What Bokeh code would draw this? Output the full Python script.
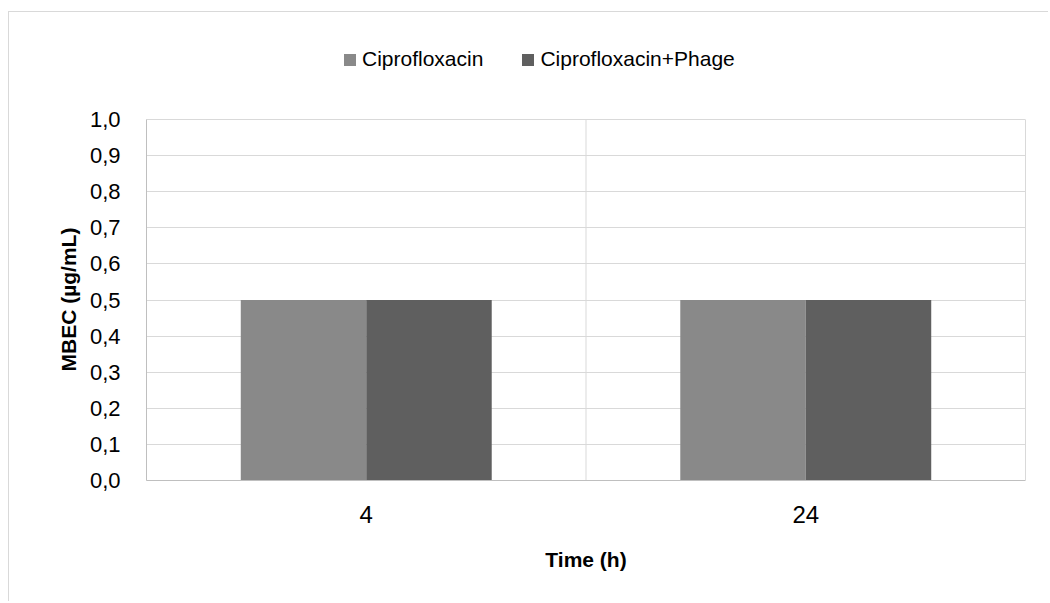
from bokeh.plotting import figure
from bokeh.models import (FactorRange, Range1d, FixedTicker, CustomJSTickFormatter,
                          Legend, LegendItem, BoxAnnotation, LinearAxis, Title,
                          ColumnDataSource)
from bokeh.transform import dodge
from bokeh.embed import file_html
from bokeh.resources import INLINE

# Data
times = ["4", "24"]
series_names = ["Ciprofloxacin", "Ciprofloxacin+Phage"]
cipro = [0.5, 0.5]
cipro_phage = [0.5, 0.5]
y_ticks = [0.0, 0.1, 0.2, 0.3, 0.4, 0.5, 0.6, 0.7, 0.8, 0.9, 1.0]

colors = ["#898989", "#5f5f5f"]
FONT = "Liberation Sans"
GRID = "#d9d9d9"

# value axis runs 0..1; the frame is taller so the legend can sit above the plot area
plot_h = 361          # px for 0..1
legend_room = 89      # px of frame above 1.0
y_max = y_ticks[-1]

source = ColumnDataSource(dict(time=times, cipro=cipro, cipro_phage=cipro_phage))

p = figure(
    x_range=FactorRange(*times, range_padding=0),
    y_range=Range1d(0, y_max * (1 + legend_room / plot_h)),
    width=1040, height=590,
    output_backend="svg", toolbar_location=None,
    min_border_left=137, min_border_right=24,
    min_border_top=18, min_border_bottom=122,
)
# chart-area frame (left and top edges visible)
p.margin = (11, 0, 0, 8)
p.styles = {"border-left": "1px solid #d9d9d9", "border-top": "1px solid #d9d9d9"}
p.outline_line_color = None

bw = 0.2855
r1 = p.vbar(x=dodge("time", -bw / 2, range=p.x_range), top="cipro", width=bw,
            source=source, fill_color=colors[0], line_color=None)
r2 = p.vbar(x=dodge("time", bw / 2, range=p.x_range), top="cipro_phage", width=bw,
            source=source, fill_color=colors[1], line_color=None)

# grid: horizontal lines at every tick, vertical divider between the two categories
p.xgrid.grid_line_color = None
p.ygrid.ticker = FixedTicker(ticks=y_ticks)
p.ygrid.grid_line_color = GRID
p.add_layout(BoxAnnotation(left=0, right=1, bottom=0, top=y_max,
                           fill_alpha=0, line_color=GRID, line_alpha=1,
                           line_width=1, level="underlay"))

# axes
p.yaxis.ticker = FixedTicker(ticks=y_ticks)
p.yaxis.formatter = CustomJSTickFormatter(code="return tick.toFixed(1).replace('.', ',');")
p.yaxis.bounds = (0, y_max)
p.xaxis.axis_label = "Time (h)"
for ax in (p.yaxis[0], p.xaxis[0]):
    ax.major_tick_in = 0
    ax.major_tick_out = 0
    ax.minor_tick_in = 0
    ax.minor_tick_out = 0
    ax.axis_line_color = "#bfbfbf"
    ax.axis_line_width = 1
    ax.major_label_text_font = FONT
    ax.major_label_text_color = "#000000"
    ax.axis_label_text_font = FONT
    ax.axis_label_text_font_style = "bold"
    ax.axis_label_text_font_size = "21px"
    ax.axis_label_text_color = "#000000"

p.yaxis.major_label_text_font_size = "22px"
p.yaxis.major_label_standoff = 26

p.xaxis.major_label_text_font_size = "24px"
p.xaxis.major_label_standoff = 25
p.xaxis.axis_label_standoff = 22

# value-axis title, centred on the 0..1 span rather than the whole frame
y_title = Title(text="MBEC (µg/mL)", align="left", offset=109,
                standoff=14, text_font=FONT, text_font_style="bold",
                text_font_size="21px", text_color="#000000")
p.add_layout(y_title, "left")

# right edge of the plot area
right_edge = LinearAxis(bounds=(0, y_max), ticker=FixedTicker(ticks=[]),
                        axis_line_color=GRID, major_tick_in=0, major_tick_out=0,
                        minor_tick_in=0, minor_tick_out=0)
p.add_layout(right_edge, "right")

# legend above the plot area
legend = Legend(
    items=[LegendItem(label=series_names[0], renderers=[r1]),
           LegendItem(label=series_names[1], renderers=[r2])],
    orientation="horizontal",
    location=(196, 409),
    padding=0, margin=0, spacing=37,
    glyph_width=15, glyph_height=15, label_standoff=5,
    label_text_font=FONT, label_text_font_size="21px",
    label_text_color="#000000",
    border_line_alpha=0, background_fill_alpha=0,
)
p.add_layout(legend, "center")

p.background_fill_color = "#ffffff"
p.border_fill_color = "#ffffff"

open("out.html", "w").write(file_html(p, INLINE))
